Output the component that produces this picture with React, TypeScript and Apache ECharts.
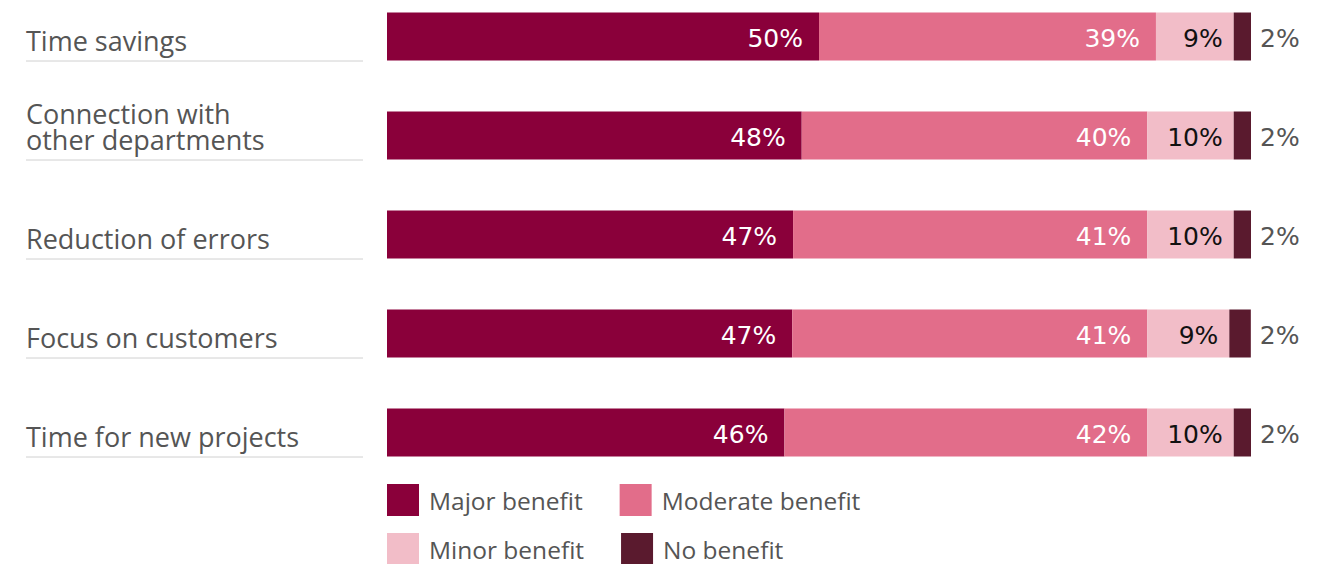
import React, { useEffect, useRef } from "react";
import * as echarts from "echarts";

const categories = [
  "Time savings",
  "Connection with\nother departments",
  "Reduction of errors",
  "Focus on customers",
  "Time for new projects",
];
const seriesNames = ["Major benefit", "Moderate benefit", "Minor benefit", "No benefit"];
const major = [50, 48, 47, 46.9, 46];
const moderate = [39, 40, 41, 41.1, 42];
const minor = [9, 10, 10, 9.49, 10];
const none = [2, 2, 2, 2.49, 2];
const colors = ["#8a003a", "#e26d8a", "#f2bdc8", "#5a1a2e"];
const labelColors = ["#ffffff", "#ffffff", "#111111", "#555555"];
const labelDistances = [16, 16, 11, 9];

const VALUE_FONT = "DejaVu Sans";
const CAT_FONT = "Open Sans";

export default function App() {
  const ref = useRef<HTMLDivElement>(null);
  useEffect(() => {
    if (!ref.current) return;
    const chart = echarts.init(ref.current, null, { renderer: "svg" });
    const values = [major, moderate, minor, none];
    const barSeries = values.map((arr, i) => ({
      type: "bar",
      name: seriesNames[i],
      stack: "total",
      data: arr,
      barWidth: 48,
      itemStyle: { color: colors[i] },
      label: {
        show: true,
        position: i === 3 ? "right" : "insideRight",
        distance: labelDistances[i],
        offset: [0, 2],
        formatter: (p: any) => Math.round(p.value) + "%",
        color: labelColors[i],
        fontFamily: VALUE_FONT,
        fontSize: 25,
      },
      emphasis: { disabled: true },
    }));
    const legendCommon = {
      left: 387,
      padding: 0,
      itemWidth: 32,
      itemHeight: 32,
      itemGap: 37,
      icon: "rect",
      selectedMode: false,
      textStyle: { fontFamily: CAT_FONT, fontSize: 24.5, color: "#555", padding: [0, 0, 0, 5] },
    };
    const option: any = {
      animation: false,
      grid: { left: 387, width: 864, top: 36.5, height: 396, containLabel: false },
      xAxis: { type: "value", min: 0, max: 100, show: false },
      yAxis: {
        type: "category",
        data: categories,
        inverse: true,
        boundaryGap: false,
        show: false,
      },
      legend: [
        { ...legendCommon, data: [seriesNames[0], seriesNames[1]], top: 484 },
        { ...legendCommon, data: [seriesNames[2], seriesNames[3]], top: 533 },
      ],
      series: [
        ...barSeries,
        {
          type: "custom",
          name: "labels",
          clip: false,
          silent: true,
          data: categories.map((_, i) => [0, i]),
          encode: { x: 0, y: 1 },
          renderItem: (params: any, api: any) => {
            const pt = api.coord([0, api.value(1)]);
            const bottom = pt[1] + 24;
            return {
              type: "group",
              children: [
                {
                  type: "text",
                  style: {
                    text: categories[params.dataIndex],
                    x: 26,
                    y: bottom - 7,
                    fill: "#555555",
                    fontFamily: CAT_FONT,
                    fontSize: 27,
                    lineHeight: 26,
                    align: "left",
                    verticalAlign: "bottom",
                  },
                },
                {
                  type: "line",
                  shape: { x1: 26, y1: bottom + 0.5, x2: 363, y2: bottom + 0.5 },
                  style: { stroke: "#d0d0d0", lineWidth: 1 },
                },
              ],
            };
          },
        },
      ],
    };
    chart.setOption(option);
    return () => chart.dispose();
  }, []);
  return (
    <div
      ref={ref}
      style={{ position: "fixed", left: 0, top: 0, width: 1324, height: 564, background: "#fff" }}
    />
  );
}
